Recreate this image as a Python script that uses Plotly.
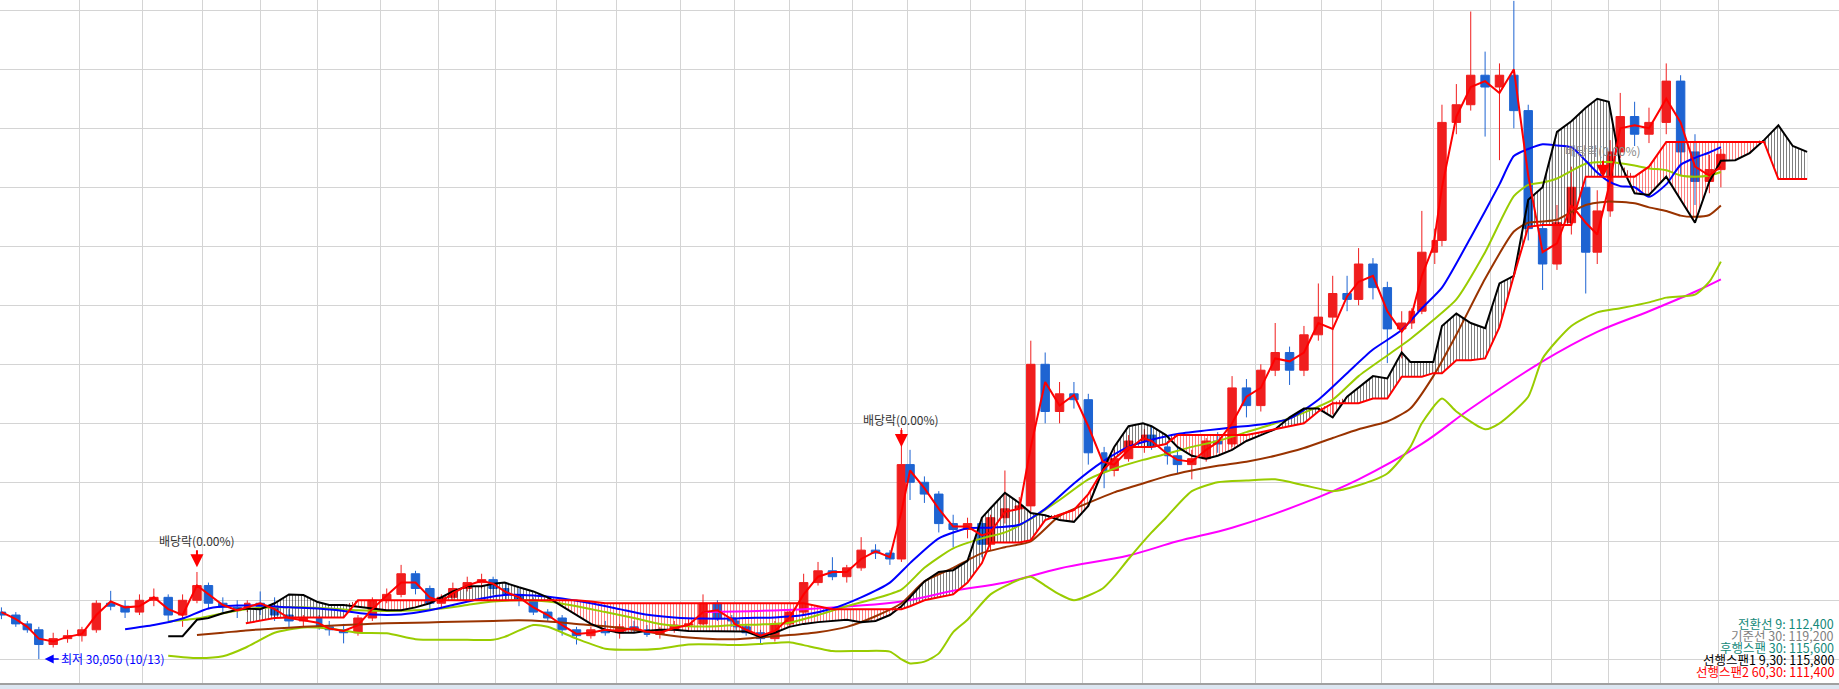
import plotly.graph_objects as go

# ---------------- data (prices in thousand KRW) ----------------
week_dates = [
    "2022-09-21","2022-09-28","2022-10-05","2022-10-12","2022-10-19","2022-10-26","2022-11-02","2022-11-09",
    "2022-11-16","2022-11-23","2022-11-30","2022-12-07","2022-12-14","2022-12-21","2022-12-28",
    "2023-01-04","2023-01-11","2023-01-18","2023-01-25","2023-02-01","2023-02-08","2023-02-15","2023-02-22",
    "2023-03-02","2023-03-08","2023-03-15","2023-03-22","2023-03-29","2023-04-05","2023-04-12","2023-04-19",
    "2023-04-26","2023-05-03","2023-05-10","2023-05-17","2023-05-24","2023-05-31","2023-06-07","2023-06-14",
    "2023-06-21","2023-06-28","2023-07-05","2023-07-12","2023-07-19","2023-07-26","2023-08-02","2023-08-09",
    "2023-08-16","2023-08-23","2023-08-30","2023-09-06","2023-09-13","2023-09-20","2023-09-27","2023-10-04",
    "2023-10-11","2023-10-18","2023-10-25","2023-11-01","2023-11-08","2023-11-15","2023-11-22","2023-11-29",
    "2023-12-06","2023-12-13","2023-12-20","2023-12-27",
    "2024-01-03","2024-01-10","2024-01-17","2024-01-24","2024-01-31","2024-02-07","2024-02-14","2024-02-21",
    "2024-02-28","2024-03-06","2024-03-13","2024-03-20","2024-03-27","2024-04-03","2024-04-11","2024-04-17",
    "2024-04-24","2024-05-02","2024-05-08","2024-05-16","2024-05-22","2024-05-29","2024-06-05","2024-06-12",
    "2024-06-19","2024-06-26","2024-07-03","2024-07-10","2024-07-17","2024-07-24","2024-07-31","2024-08-07",
    "2024-08-14","2024-08-21","2024-08-28","2024-09-04","2024-09-11","2024-09-19","2024-09-25","2024-10-02",
    "2024-10-08","2024-10-16","2024-10-23","2024-10-30","2024-11-06","2024-11-13","2024-11-20","2024-11-27",
    "2024-12-04","2024-12-11","2024-12-18","2024-12-24",
    "2025-01-02","2025-01-08","2025-01-15","2025-01-22","2025-02-05","2025-02-12","2025-02-19","2025-02-26",
    "2025-03-05",
]
open_k = [
    38.0,37.5,36.0,35.0,32.5,33.5,34.0,35.0,39.5,39.0,38.0,40.0,40.5,37.5,40.0,
    42.5,39.5,38.8,38.5,39.5,39.0,37.5,36.5,37.0,35.5,35.0,34.5,37.0,40.0,41.0,44.5,42.0,
    39.5,40.5,42.0,43.0,43.5,42.0,41.0,40.0,38.0,37.0,35.0,34.0,35.0,34.5,35.5,35.0,34.2,35.0,
    35.8,36.0,39.5,37.0,36.5,35.5,34.5,33.5,36.0,38.0,43.0,45.0,44.0,45.5,48.5,48.0,47.0,
    63.0,60.0,58.0,53.0,52.0,53.0,49.5,54.0,55.5,56.0,80.0,72.0,75.0,74.0,65.0,62.0,64.0,
    67.0,68.0,66.0,64.5,63.0,64.0,67.0,66.5,76.0,73.0,79.0,82.0,79.0,85.0,88.0,92.0,91.0,97.0,
    93.0,86.0,87.0,89.0,99.0,101.0,121.0,124.0,129.0,127.0,129.0,123.0,103.0,97.0,104.0,110.0,99.0,
    106.0,116.0,122.0,119.0,121.0,128.0,116.0,111.0,113.0,
]
high_k = [
    38.8,38.0,36.5,35.5,34.5,35.0,35.5,40.0,41.6,40.0,41.0,42.0,41.0,41.0,44.8,
    43.0,40.5,40.0,40.0,41.5,40.5,38.5,37.5,37.5,36.5,36.0,37.5,40.5,42.0,46.0,45.0,42.5,
    41.0,43.0,44.0,44.5,44.0,43.0,42.0,40.5,38.5,37.5,35.5,35.5,36.5,36.0,36.5,35.8,35.5,36.5,
    37.0,41.0,40.0,37.5,37.0,36.0,35.0,36.5,38.5,44.5,46.5,47.3,46.0,50.7,49.5,48.5,69.2,
    65.5,61.0,58.5,54.5,54.0,53.5,54.5,62.0,57.5,84.0,82.0,77.0,77.0,75.0,66.0,65.5,68.0,
    69.0,69.5,67.0,66.0,65.5,67.5,68.5,78.0,77.5,80.0,87.0,83.0,86.5,93.7,95.0,95.0,99.7,98.0,
    94.0,89.0,89.5,106.0,103.0,124.0,127.5,139.8,133.0,131.0,141.6,124.0,104.0,107.0,113.5,111.5,109.5,
    118.0,126.0,124.5,123.5,131.0,129.0,119.0,115.5,116.5,
]
low_k = [
    36.8,35.5,34.5,30.05,32.0,32.8,33.0,34.5,38.3,37.0,37.5,39.0,36.5,35.5,39.5,
    38.5,38.0,37.0,38.0,37.5,36.5,35.3,35.5,35.0,34.0,32.7,34.0,36.5,39.5,40.5,41.0,38.5,
    38.5,40.0,41.5,42.0,41.0,40.0,39.0,37.5,36.5,34.0,32.5,33.5,34.0,33.5,34.5,33.8,33.5,34.5,
    35.0,35.8,36.5,35.5,35.0,34.0,32.7,33.0,35.5,37.5,42.5,43.4,43.0,45.0,47.0,46.0,46.5,
    57.0,56.5,51.5,49.0,50.5,47.3,48.5,53.0,53.0,55.0,70.0,70.0,72.5,63.0,59.0,61.0,63.5,
    65.0,65.5,63.0,61.5,60.5,63.5,65.0,66.0,71.0,72.0,78.0,76.5,78.0,84.0,71.5,89.0,90.0,91.0,
    80.2,81.0,86.0,88.5,97.0,100.0,119.0,123.0,118.6,114.6,120.0,101.0,92.6,96.0,102.0,92.0,97.0,
    105.0,115.0,117.0,117.5,119.0,112.0,107.0,109.0,110.0,
]
close_k = [
    37.5,36.0,35.0,32.5,33.5,34.0,35.0,39.5,39.0,38.0,40.0,40.5,37.5,40.0,42.5,
    39.5,38.8,38.5,39.5,39.0,37.5,36.5,37.0,35.5,35.0,34.5,37.0,40.0,41.0,44.5,42.0,39.5,
    40.5,42.0,43.0,43.5,42.0,41.0,40.0,38.0,37.0,35.0,34.0,35.0,34.5,35.5,35.0,34.2,35.0,35.8,
    36.0,39.5,37.0,36.5,35.5,34.5,33.5,36.0,38.0,43.0,45.0,44.0,45.5,48.5,48.0,47.0,63.0,
    60.0,58.0,53.0,52.0,53.0,49.5,54.0,55.5,56.0,80.0,72.0,75.0,74.0,65.0,62.0,64.0,67.0,
    68.0,66.0,64.5,63.0,64.0,67.0,66.5,76.0,73.0,79.0,82.0,79.0,85.0,88.0,92.0,91.0,97.0,93.0,
    86.0,87.0,89.0,99.0,101.0,121.0,124.0,129.0,127.0,129.0,123.0,103.0,97.0,104.0,110.0,99.0,106.0,
    116.0,122.0,119.0,121.0,128.0,116.0,111.0,113.0,115.6,
]
ma_short = [
    38.0,36.8,35.5,33.5,33.0,33.8,34.3,37.5,39.8,38.8,39.0,40.5,38.5,37.5,42.5,
    41.0,39.2,38.3,38.8,39.5,38.5,37.0,36.6,36.2,35.2,34.8,35.8,38.5,40.8,43.0,43.0,40.5,
    39.8,41.2,42.5,43.3,42.8,41.5,40.5,38.8,37.5,35.8,34.3,34.5,35.0,34.8,35.3,34.7,34.5,35.3,
    35.8,38.0,38.3,36.8,36.0,35.0,34.0,34.8,37.0,41.0,44.0,44.8,44.8,47.0,48.3,47.3,55.0,
    62.0,59.0,55.5,52.5,52.5,51.0,51.5,55.0,55.5,66.0,77.0,73.0,74.8,69.5,63.5,63.0,65.5,
    67.5,67.0,65.0,63.8,63.5,65.5,66.8,70.0,74.5,76.0,81.0,80.5,82.0,87.0,86.0,91.5,94.0,95.0,
    89.0,85.5,87.5,95.0,100.0,110.0,122.0,127.0,128.0,126.0,130.0,112.0,99.0,100.5,107.0,104.0,102.0,
    110.0,120.0,120.5,120.0,125.0,121.0,113.5,112.0,113.5,
]

blue_dates = ["2022-11-23","2022-12-07","2022-12-21","2023-01-04","2023-01-18","2023-02-01","2023-02-15","2023-03-02",
    "2023-03-15","2023-03-29","2023-04-12","2023-04-26","2023-05-10","2023-05-24","2023-06-07","2023-06-21",
    "2023-07-05","2023-07-19","2023-08-02","2023-08-16","2023-08-30","2023-09-13","2023-09-27","2023-10-11",
    "2023-10-25","2023-11-08","2023-11-22","2023-12-06","2023-12-20","2024-01-03","2024-01-17","2024-01-31",
    "2024-02-14","2024-02-28","2024-03-13","2024-03-27","2024-04-11","2024-04-24","2024-05-08","2024-05-22",
    "2024-06-05","2024-06-19","2024-07-03","2024-07-17","2024-07-31","2024-08-14","2024-08-28","2024-09-11",
    "2024-09-25","2024-10-08","2024-10-23","2024-11-06","2024-11-13","2024-11-20","2024-11-27","2024-12-04",
    "2024-12-11","2024-12-18","2024-12-24","2025-01-02","2025-01-08","2025-01-15","2025-01-22","2025-02-05",
    "2025-02-12","2025-02-19","2025-02-26","2025-03-05"]
blue_vals = [35.1,35.8,36.9,38.6,39.1,39.1,38.8,38.6,38.2,37.6,37.6,38.3,39.2,40.3,40.9,40.8,40.3,39.5,38.5,37.6,
    37.1,36.9,36.9,37.0,37.1,37.5,38.6,40.5,43.0,46.3,50.5,52.2,52.3,52.8,55.5,59.8,63.5,66.0,67.2,68.2,
    68.8,69.3,69.8,70.8,74.0,78.5,82.5,85.8,89.5,93.0,101.5,110.5,115.3,116.5,117.3,117.1,116.8,114.5,112.5,
    111.0,110.2,110.0,108.4,110.5,113.8,115.0,115.9,116.8]

lime_dates = ["2022-12-14","2022-12-28","2023-01-11","2023-01-25","2023-02-08","2023-02-22","2023-03-08","2023-03-22",
    "2023-04-05","2023-04-19","2023-05-03","2023-05-17","2023-05-31","2023-06-14","2023-06-28","2023-07-12",
    "2023-07-26","2023-08-09","2023-08-23","2023-09-06","2023-09-20","2023-10-04","2023-10-18","2023-11-01",
    "2023-11-15","2023-11-29","2023-12-13","2023-12-27","2024-01-10","2024-01-24","2024-02-07","2024-02-21",
    "2024-03-06","2024-03-20","2024-04-03","2024-04-17","2024-05-02","2024-05-16","2024-05-29","2024-06-12",
    "2024-06-26","2024-07-10","2024-07-24","2024-08-07","2024-08-21","2024-09-04","2024-09-19","2024-10-02",
    "2024-10-16","2024-10-30","2024-11-13","2024-11-20","2024-11-27","2024-12-04","2024-12-11","2024-12-18",
    "2025-01-02","2025-01-15","2025-01-22","2025-02-05","2025-02-12","2025-02-19","2025-02-26","2025-03-05"]
lime_vals = [36.4,36.9,37.8,38.5,38.8,38.8,38.6,38.3,38.2,38.3,38.6,39.2,39.8,40.0,39.8,39.0,
    38.0,37.0,36.0,35.6,35.6,35.8,35.9,36.2,37.5,39.0,40.3,41.8,45.5,48.8,50.5,51.5,
    53.8,57.0,60.5,62.3,63.8,64.8,66.0,67.0,68.5,70.0,71.8,74.0,78.0,81.5,84.3,87.5,
    91.0,99.0,108.5,110.4,110.8,111.5,112.8,114.0,114.3,113.7,113.2,112.9,112.0,111.8,112.0,112.6]

brown_dates = ["2022-12-28","2023-01-11","2023-01-25","2023-02-08","2023-02-22","2023-03-08","2023-03-22","2023-04-05",
    "2023-04-19","2023-05-03","2023-05-17","2023-05-31","2023-06-14","2023-06-28","2023-07-12","2023-07-26",
    "2023-08-09","2023-08-23","2023-09-06","2023-09-20","2023-10-04","2023-10-18","2023-11-01","2023-11-15",
    "2023-11-29","2023-12-13","2023-12-27","2024-01-10","2024-01-24","2024-02-07","2024-02-21","2024-03-06",
    "2024-03-20","2024-04-03","2024-04-17","2024-05-02","2024-05-16","2024-05-29","2024-06-12","2024-06-26",
    "2024-07-10","2024-07-24","2024-08-07","2024-08-21","2024-09-04","2024-09-19","2024-10-02","2024-10-16",
    "2024-10-30","2024-11-13","2024-11-20","2024-11-27","2024-12-04","2024-12-11","2024-12-18","2025-01-02",
    "2025-01-15","2025-01-22","2025-02-05","2025-02-12","2025-02-19","2025-02-26","2025-03-05"]
brown_vals = [34.1,34.5,34.9,35.2,35.5,35.7,35.9,36.1,36.2,36.3,36.4,36.5,36.6,36.4,36.0,35.6,
    35.0,34.3,33.7,33.4,33.4,33.7,34.1,34.6,35.5,37.3,39.5,43.2,45.5,48.0,49.0,50.0,
    54.3,56.5,58.3,59.8,61.0,62.0,62.8,63.5,64.5,65.8,67.5,69.0,70.3,72.5,78.0,85.0,
    94.5,102.5,104.0,104.2,104.5,105.8,107.0,107.6,107.3,106.6,106.0,105.2,105.0,105.3,106.9]

magenta_dates = ["2023-09-13","2023-11-08","2023-12-27","2024-01-24","2024-02-21","2024-03-20","2024-04-24","2024-05-22",
    "2024-06-19","2024-07-24","2024-08-21","2024-09-25","2024-10-23","2024-11-27","2024-12-24","2025-01-22",
    "2025-02-19","2025-03-05"]
magenta_vals = [38.0,38.5,39.8,41.6,43.0,45.4,47.6,50.0,52.3,56.5,60.5,66.5,72.5,80.5,85.5,89.0,92.3,94.4]

lime2_dates = ["2022-12-14","2022-12-28","2023-01-11","2023-01-25","2023-02-08","2023-02-22","2023-03-08","2023-03-22",
    "2023-04-05","2023-04-19","2023-05-03","2023-05-17","2023-05-31","2023-06-07","2023-06-21","2023-06-28",
    "2023-07-12","2023-07-26","2023-08-09","2023-08-23","2023-09-06","2023-09-20","2023-10-04","2023-10-18",
    "2023-11-01","2023-11-08","2023-11-22","2023-12-06","2023-12-20","2023-12-27","2024-01-03","2024-01-10",
    "2024-01-17","2024-01-24","2024-01-31","2024-02-14","2024-02-28","2024-03-06","2024-03-13","2024-03-20",
    "2024-03-27","2024-04-11","2024-04-17","2024-04-24","2024-05-08","2024-05-16","2024-05-29","2024-06-12",
    "2024-06-26","2024-07-10","2024-07-24","2024-08-07","2024-08-21","2024-09-04","2024-09-19","2024-09-25",
    "2024-10-08","2024-10-16","2024-10-30","2024-11-06","2024-11-20","2024-11-27","2024-12-11","2024-12-24",
    "2025-01-08","2025-01-22","2025-02-05","2025-02-19","2025-02-26","2025-03-05"]
lime2_vals = [30.6,30.2,30.5,32.0,34.5,35.4,35.2,34.5,34.4,33.4,33.3,33.3,33.3,33.8,35.8,35.5,
    33.5,31.8,31.6,31.8,32.5,32.5,32.4,32.6,32.9,32.4,31.4,31.4,31.3,30.0,29.3,29.6,
    31.0,34.6,36.7,41.0,43.5,44.0,42.5,41.0,40.0,42.0,44.0,47.0,51.5,54.0,58.5,60.0,
    60.3,60.5,59.5,58.5,59.5,61.5,66.0,70.0,74.2,72.0,69.0,70.0,74.5,81.0,86.5,88.8,
    89.5,90.5,91.3,91.8,94.0,97.4]

cloud_dates = week_dates[12:] + ["2025-03-12","2025-03-19","2025-03-26","2025-04-02","2025-04-09","2025-04-16"]
span1_vals = [33.9,33.9,36.7,
    37.0,37.8,38.4,38.6,38.5,39.5,41.0,40.9,39.7,39.2,39.2,38.9,38.6,38.3,38.3,38.8,39.5,
    40.5,41.5,42.4,42.4,42.8,43.0,42.2,41.5,40.5,39.0,37.5,36.0,35.0,34.5,34.5,34.8,35.0,35.0,
    34.8,34.8,34.7,34.7,34.7,34.7,33.8,34.5,35.5,36.0,36.3,36.5,36.7,36.3,36.5,37.5,39.0,
    40.5,43.2,44.8,45.1,46.7,54.0,55.6,58.2,56.5,54.8,54.4,53.6,53.3,56.0,62.0,66.0,69.5,
    70.0,69.5,68.0,66.0,64.5,64.0,64.5,65.5,67.0,68.0,69.0,71.0,72.5,72.5,71.0,74.5,76.0,78.0,
    77.6,82.0,80.4,80.4,80.4,86.5,88.6,87.0,86.1,93.7,95.0,107.9,110.0,119.4,121.2,123.5,125.0,
    124.5,114.0,109.0,108.7,111.8,108.0,104.0,111.0,114.5,
    114.6,115.8,118.0,120.5,117.0,116.0]
span2_vals = [None,None,None,
    None,None,None,36.1,36.5,37.0,37.1,37.1,37.1,37.1,37.1,40.0,40.0,40.0,40.0,40.0,40.0,
    40.0,40.0,40.0,40.0,40.0,40.0,40.0,40.0,40.0,40.0,40.0,39.8,39.5,39.5,39.5,39.5,39.5,39.5,
    39.5,39.5,39.5,39.5,39.5,39.5,39.5,39.5,39.5,39.5,39.0,38.5,38.5,38.5,38.5,38.5,38.5,
    39.0,40.0,40.5,41.0,43.0,46.3,49.8,49.8,49.8,50.2,53.6,54.5,55.3,58.0,62.0,64.0,66.0,
    66.0,66.0,66.5,68.0,68.0,68.0,68.0,68.0,68.0,68.5,69.0,69.5,70.0,72.0,73.4,73.4,73.4,74.2,
    74.2,77.9,77.9,77.9,78.5,78.5,80.7,80.7,81.0,86.3,95.0,103.3,103.6,103.6,103.6,111.8,111.8,
    111.8,111.8,111.8,113.5,117.7,117.7,117.7,117.7,117.7,
    117.7,117.7,117.7,111.4,111.4,111.4]

holidays = ["2022-10-03","2022-10-10","2022-12-30","2023-01-23","2023-01-24","2023-03-01","2023-05-01","2023-05-05",
    "2023-05-29","2023-06-06","2023-08-15","2023-09-28","2023-09-29","2023-10-02","2023-10-03","2023-10-09",
    "2023-12-25","2023-12-29","2024-01-01","2024-02-09","2024-02-12","2024-03-01","2024-04-10","2024-05-01",
    "2024-05-06","2024-05-15","2024-06-06","2024-08-15","2024-09-16","2024-09-17","2024-09-18","2024-10-01",
    "2024-10-03","2024-10-09","2024-12-25","2024-12-31","2025-01-01","2025-01-27","2025-01-28","2025-01-29",
    "2025-01-30","2025-03-03","2025-05-01","2025-05-05","2025-05-06"]

month_ticks = ["2022-09-20 12:00","2022-11-01","2022-12-01","2023-01-02","2023-02-01","2023-03-02","2023-04-03","2023-05-02",
    "2023-06-01","2023-07-03","2023-08-01","2023-09-01","2023-10-04","2023-11-01","2023-12-01","2024-01-02",
    "2024-02-01","2024-03-04","2024-04-01","2024-05-02","2024-06-03","2024-07-01","2024-08-01","2024-09-02",
    "2024-10-02","2024-11-01","2024-12-02","2025-01-02","2025-02-03","2025-03-04"]
month_labels = ["2022/09","11","12","2023/01","02","03","04","05","06","07","08","09","10","11","12","2024/01",
    "02","03","04","05","06","07","08","09","10","11","12","2025/01","02","03"]

x_range = ["2022-09-20 12:00", "2025-05-02 02:00"]
y_range = [25.98, 141.75]

low_point = ("2022-10-13", 30.05, "최저 30,050 (10/13)")
dividend_points = [("2022-12-28", 45.6), ("2023-12-27", 66.0), ("2024-12-27", 111.6)]
legend_lines = [("전환선 9: 112,400", "#13897a"), ("기준선 30: 119,200", "#7f7f7f"),
                ("후행스팬 30: 115,600", "#13897a"), ("선행스팬1 9,30: 115,800", "#000000"),
                ("선행스팬2 60,30: 111,400", "#ff0000")]

# ---------------- figure ----------------
FONT = "Noto Sans CJK KR, Noto Sans, sans-serif"
fig = go.Figure()

# cloud fills (hatched)
fd, s1, s2 = [], [], []
for d, a, b in zip(cloud_dates, span1_vals, span2_vals):
    if b is not None:
        fd.append(d); s1.append(a); s2.append(b)
top = [max(a, b) for a, b in zip(s1, s2)]
hid = dict(width=0)
fig.add_trace(go.Scatter(x=fd, y=s2, mode="lines", line=hid, hoverinfo="skip", showlegend=False))
fig.add_trace(go.Scatter(x=fd, y=top, mode="lines", line=hid, fill="tonexty", fillcolor="rgba(255,255,255,0)",
                         fillpattern=dict(shape="|", fgcolor="#000000", bgcolor="rgba(255,255,255,0)", size=3, solidity=0.34),
                         hoverinfo="skip", showlegend=False))
fig.add_trace(go.Scatter(x=fd, y=s1, mode="lines", line=hid, hoverinfo="skip", showlegend=False))
fig.add_trace(go.Scatter(x=fd, y=top, mode="lines", line=hid, fill="tonexty", fillcolor="rgba(255,255,255,0)",
                         fillpattern=dict(shape="|", fgcolor="#ff0000", bgcolor="rgba(255,255,255,0)", size=3, solidity=0.34),
                         hoverinfo="skip", showlegend=False))

# long moving averages
fig.add_trace(go.Scatter(x=magenta_dates, y=magenta_vals, mode="lines", line=dict(color="#ff00ff", width=2, shape="spline"), showlegend=False))
fig.add_trace(go.Scatter(x=lime2_dates, y=lime2_vals, mode="lines", line=dict(color="#99cc00", width=2, shape="spline", smoothing=0.6), showlegend=False))
fig.add_trace(go.Scatter(x=brown_dates, y=brown_vals, mode="lines", line=dict(color="#993300", width=2, shape="spline", smoothing=0.6), showlegend=False))
fig.add_trace(go.Scatter(x=lime_dates, y=lime_vals, mode="lines", line=dict(color="#99cc00", width=2, shape="spline", smoothing=0.6), showlegend=False))
fig.add_trace(go.Scatter(x=blue_dates, y=blue_vals, mode="lines", line=dict(color="#0000ff", width=2, shape="spline", smoothing=0.6), showlegend=False))

# candles
fig.add_trace(go.Candlestick(x=week_dates, open=open_k, high=high_k, low=low_k, close=close_k,
                             increasing=dict(line=dict(color="#f01e1e", width=1), fillcolor="#f01e1e"),
                             decreasing=dict(line=dict(color="#1e64d2", width=1), fillcolor="#1e64d2"),
                             whiskerwidth=0, showlegend=False))

# cloud boundary lines
fig.add_trace(go.Scatter(x=cloud_dates, y=span1_vals, mode="lines", line=dict(color="#000000", width=2), showlegend=False))
fig.add_trace(go.Scatter(x=cloud_dates, y=span2_vals, mode="lines", line=dict(color="#ff0000", width=2), connectgaps=False, showlegend=False))

# short MA
fig.add_trace(go.Scatter(x=week_dates, y=ma_short, mode="lines", line=dict(color="#ff0000", width=2), showlegend=False))

annotations = []
annotations.append(dict(x=low_point[0], y=low_point[1], xref="x", yref="y", text=low_point[2],
                        showarrow=True, ax=14, ay=0, xanchor="left", arrowhead=2, arrowsize=1.2, arrowwidth=1.5,
                        arrowcolor="#0000ff", xshift=3, font=dict(family=FONT, size=12, color="#0000ff")))
for i, (d, p) in enumerate(dividend_points):
    col = "#333333" if i < 2 else "#888888"
    annotations.append(dict(x=d, y=p, xref="x", yref="y", text="배당락(0.00%)", showarrow=True, ax=0, ay=-27,
                            arrowhead=2, arrowsize=1.3, arrowwidth=2, arrowcolor="#ff0000",
                            font=dict(family=FONT, size=12, color=col)))
ys = [623.5, 635.5, 647, 659, 671]
for (txt, col), yy in zip(legend_lines, ys):
    annotations.append(dict(x=1835 / 1839, y=(683 - yy) / 683, xref="paper", yref="paper", text=txt,
                            showarrow=False, xanchor="right", yanchor="middle", borderpad=0,
                            font=dict(family=FONT, size=12.5, color=col)))

fig.update_layout(
    width=1839, height=689, autosize=False,
    margin=dict(l=0, r=0, t=0, b=6, pad=0),
    paper_bgcolor="#ffffff", plot_bgcolor="#ffffff",
    showlegend=False,
    boxgap=0.3,
    annotations=annotations,
    shapes=[dict(type="rect", xref="paper", yref="paper", x0=0, x1=1, y0=-6 / 683, y1=0,
                 fillcolor="#dce6f1", line=dict(width=0), layer="below")],
    xaxis=dict(type="date", range=x_range, rangeslider=dict(visible=False), automargin=False,
               rangebreaks=[dict(bounds=["sat", "mon"]), dict(values=holidays)],
               tickmode="array", tickvals=month_ticks, ticktext=month_labels,
               ticklabelposition="outside right", ticks="", showgrid=True, gridcolor="#d4d4d4", gridwidth=1,
               showline=True, linecolor="#a0a0a0", linewidth=2, zeroline=False,
               tickfont=dict(family=FONT, size=12, color="#222222")),
    yaxis=dict(range=y_range, tickmode="array", tickvals=[30, 40, 50, 60, 70, 80, 90, 100, 110, 120, 130, 140],
               showticklabels=False, ticks="", showgrid=True, gridcolor="#d4d4d4", gridwidth=1,
               zeroline=False, showline=False, automargin=False),
    hovermode=False,
)

fig.write_html("out.html", config={"displayModeBar": False},
               post_script="document.body.style.margin='0px';document.body.style.overflow='hidden';")
